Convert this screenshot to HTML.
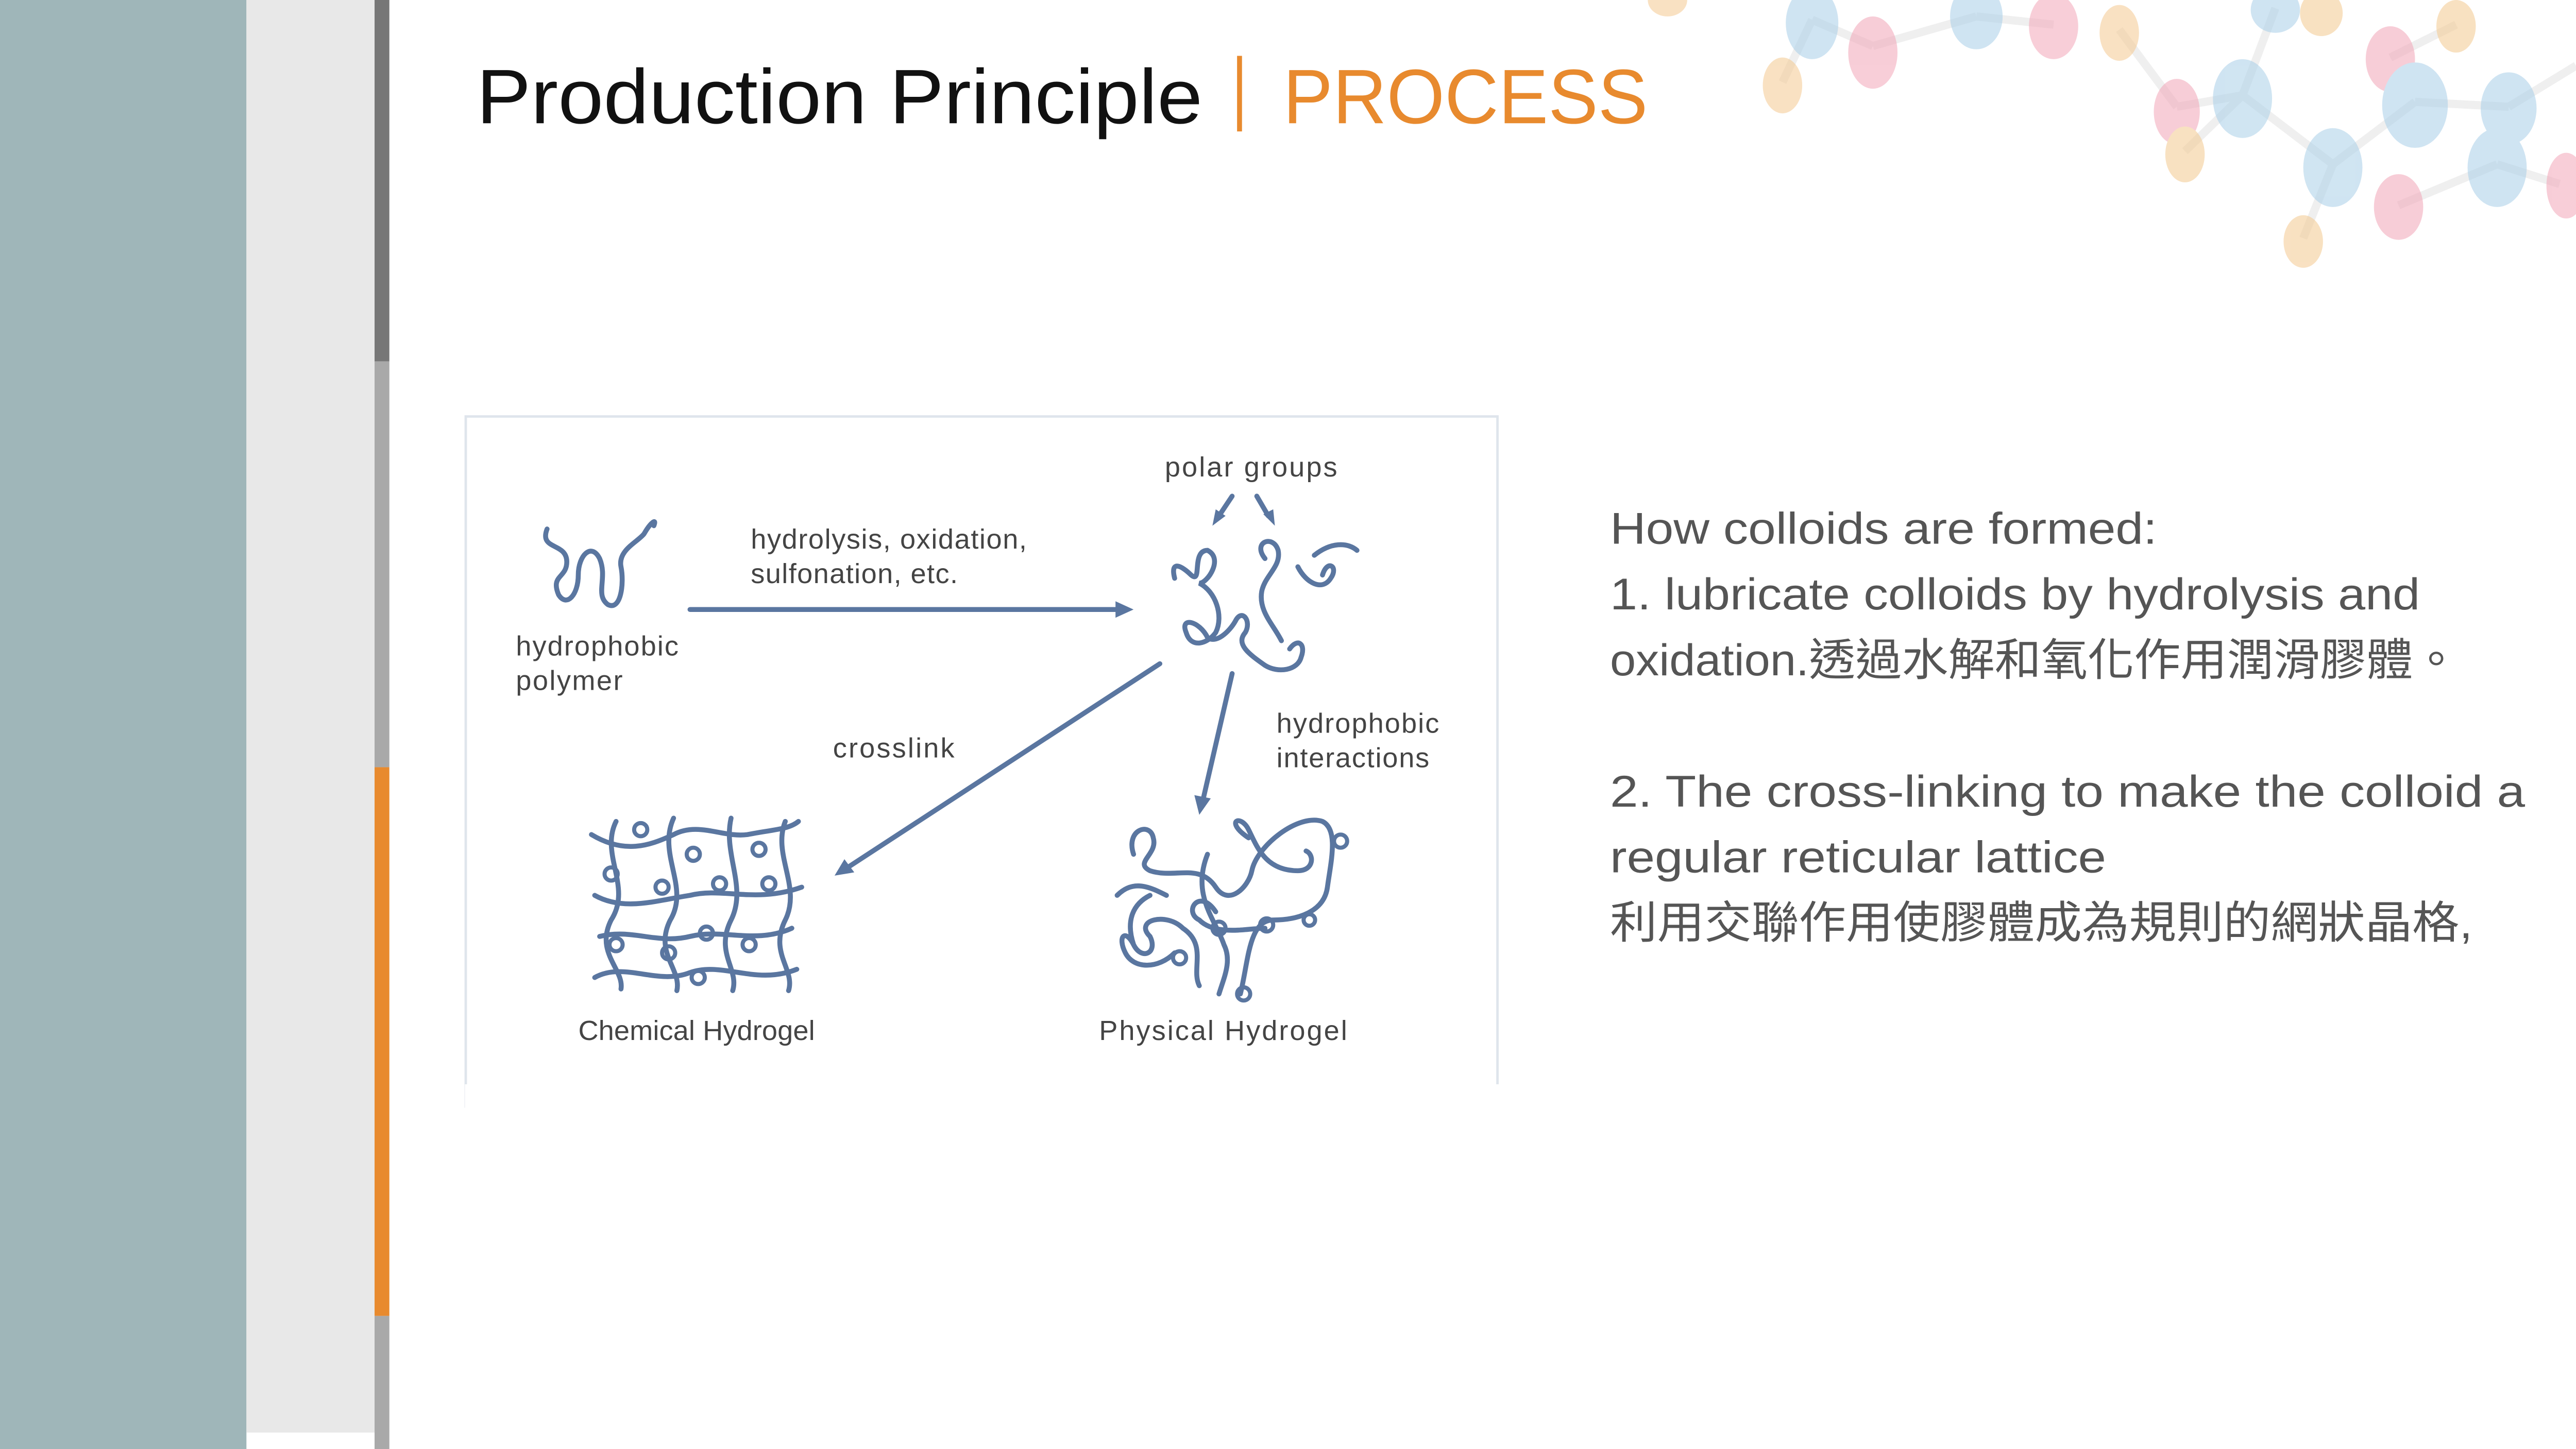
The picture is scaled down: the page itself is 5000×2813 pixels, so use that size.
<!DOCTYPE html>
<html><head><meta charset="utf-8"><style>html,body{margin:0;padding:0;background:#fff}svg{display:block}</style></head>
<body>
<svg width="5000" height="2813" viewBox="0 0 1568 882" preserveAspectRatio="none" xmlns="http://www.w3.org/2000/svg">
<rect x="0" y="0" width="1568" height="882" fill="#fff"/>
<rect x="0" y="0" width="150" height="882" fill="#9fb6b9"/>
<rect x="150" y="0" width="78" height="872" fill="#e8e8e8"/>
<rect x="228" y="0" width="9" height="220" fill="#777"/>
<rect x="228" y="220" width="9" height="247" fill="#a9a9a9"/>
<rect x="228" y="467" width="9" height="334" fill="#e88a2e"/>
<rect x="228" y="801" width="9" height="81" fill="#a9a9a9"/>

<!-- molecules -->
<g opacity="0.45" stroke="#ddd" stroke-width="5">
<line x1="1103" y1="12" x2="1085" y2="50"/><line x1="1103" y1="12" x2="1140" y2="28"/><line x1="1140" y1="28" x2="1203" y2="10"/>
<line x1="1203" y1="10" x2="1250" y2="15"/><line x1="1290" y1="18" x2="1325" y2="65"/><line x1="1325" y1="65" x2="1365" y2="58"/>
<line x1="1365" y1="58" x2="1385" y2="5"/><line x1="1365" y1="58" x2="1330" y2="92"/><line x1="1365" y1="58" x2="1420" y2="100"/>
<line x1="1420" y1="100" x2="1402" y2="145"/><line x1="1420" y1="100" x2="1470" y2="62"/><line x1="1470" y1="62" x2="1527" y2="65"/>
<line x1="1455" y1="35" x2="1495" y2="15"/><line x1="1527" y1="65" x2="1568" y2="40"/><line x1="1520" y1="100" x2="1460" y2="125"/><line x1="1520" y1="100" x2="1558" y2="112"/>
</g>
<g opacity="0.55">
<ellipse cx="1015" cy="0" rx="12" ry="10" fill="#f4c98f"/>
<ellipse cx="1103" cy="14" rx="16" ry="22" fill="#a9cfe8"/>
<ellipse cx="1140" cy="32" rx="15" ry="22" fill="#f2a6b8"/>
<ellipse cx="1085" cy="52" rx="12" ry="17" fill="#f4c98f"/>
<ellipse cx="1203" cy="10" rx="16" ry="20" fill="#a9cfe8"/>
<ellipse cx="1250" cy="16" rx="15" ry="20" fill="#f2a6b8"/>
<ellipse cx="1290" cy="20" rx="12" ry="17" fill="#f4c98f"/>
<ellipse cx="1325" cy="68" rx="14" ry="20" fill="#f2a6b8"/>
<ellipse cx="1365" cy="60" rx="18" ry="24" fill="#a9cfe8"/>
<ellipse cx="1330" cy="94" rx="12" ry="17" fill="#f4c98f"/>
<ellipse cx="1385" cy="6" rx="15" ry="14" fill="#a9cfe8"/>
<ellipse cx="1413" cy="8" rx="13" ry="14" fill="#f4c98f"/>
<ellipse cx="1455" cy="36" rx="15" ry="20" fill="#f2a6b8"/>
<ellipse cx="1470" cy="64" rx="20" ry="26" fill="#a9cfe8"/>
<ellipse cx="1495" cy="16" rx="12" ry="16" fill="#f4c98f"/>
<ellipse cx="1527" cy="66" rx="17" ry="22" fill="#a9cfe8"/>
<ellipse cx="1420" cy="102" rx="18" ry="24" fill="#a9cfe8"/>
<ellipse cx="1402" cy="147" rx="12" ry="16" fill="#f4c98f"/>
<ellipse cx="1460" cy="126" rx="15" ry="20" fill="#f2a6b8"/>
<ellipse cx="1520" cy="102" rx="18" ry="24" fill="#a9cfe8"/>
<ellipse cx="1562" cy="113" rx="12" ry="20" fill="#f2a6b8"/>
</g>

<!-- title -->
<text x="290" y="75" font-family="Liberation Sans, sans-serif" font-size="47" fill="#111" textLength="442" lengthAdjust="spacingAndGlyphs">Production Principle</text>
<rect x="753" y="34" width="3" height="46" fill="#e88a2e"/>
<text x="781" y="75" font-family="Liberation Sans, sans-serif" font-size="47" fill="#e88a2e" textLength="222" lengthAdjust="spacingAndGlyphs">PROCESS</text>

<!-- diagram box -->
<rect x="283.5" y="253.5" width="628" height="420" fill="#fff" stroke="#dfe5ec" stroke-width="1.5"/>
<g font-family="Liberation Sans, sans-serif" font-size="17" fill="#444" lengthAdjust="spacingAndGlyphs">
<text x="709" y="290" textLength="105">polar groups</text>
<text x="457" y="334" textLength="168">hydrolysis, oxidation,</text>
<text x="457" y="355" textLength="126">sulfonation, etc.</text>
<text x="314" y="399" textLength="99">hydrophobic</text>
<text x="314" y="420" textLength="65">polymer</text>
<text x="507" y="461" textLength="74">crosslink</text>
<text x="777" y="446" textLength="99">hydrophobic</text>
<text x="777" y="467" textLength="93">interactions</text>
<text x="352" y="633" textLength="144">Chemical Hydrogel</text>
<text x="669" y="633" textLength="151">Physical Hydrogel</text>
</g>
<rect x="283" y="660" width="630" height="20" fill="#fff"/>
<g stroke="#5a76a0" stroke-width="3" fill="none" stroke-linecap="round">
<line x1="420" y1="371" x2="680" y2="371"/>
<line x1="706" y1="404" x2="516" y2="528"/>
<line x1="750" y1="410" x2="732" y2="488"/>
<line x1="750" y1="302" x2="742" y2="314"/>
<line x1="765" y1="302" x2="772" y2="314"/>
<path d="M333 322 C328 335,345 330,345 342 C345 352,335 350,340 362 C345 370,352 362,352 350 C352 338,360 330,365 340 C370 352,362 362,370 368 C378 372,380 355,378 345 C376 335,388 330,392 325 C396 318,400 315,398 320"/>
<path d="M715 352 C712 340,720 345,725 350 C732 356,725 335,735 335 C745 340,735 355,730 355 C740 360,745 375,740 385 C735 392,725 395,722 385 C718 375,730 378,735 388 C740 392,748 385,752 378 C756 370,762 378,758 385 C752 392,760 398,770 405 C778 410,790 408,792 400 C795 392,790 388,785 395 M770 340 C762 330,775 325,778 335 C780 345,770 350,768 360 C766 372,775 380,780 390 M790 345 C795 355,805 360,810 352 C815 345,808 340,805 350 M800 338 C810 330,820 330,826 335"/>
<path d="M360 508 C380 520,395 515,410 508 C425 500,440 510,455 508 C470 505,480 505,486 500 M362 545 C380 555,400 548,420 545 C440 540,460 550,488 540 M365 570 C385 565,400 575,420 570 C440 565,460 575,482 565 M362 595 C380 585,400 600,420 592 C440 585,460 600,485 590 M375 500 C365 520,385 540,372 560 C362 580,380 590,378 602 M410 498 C400 520,420 540,408 560 C398 580,415 590,412 603 M445 498 C440 520,455 540,445 560 C435 580,450 590,446 603 M478 500 C470 520,488 540,478 560 C468 580,484 590,480 603"/>
<g stroke-width="2.5"><circle cx="390" cy="505" r="4"/><circle cx="422" cy="520" r="4"/><circle cx="372" cy="532" r="4"/><circle cx="403" cy="540" r="4"/><circle cx="438" cy="538" r="4"/><circle cx="468" cy="538" r="4"/><circle cx="375" cy="575" r="4"/><circle cx="407" cy="580" r="4"/><circle cx="430" cy="568" r="4"/><circle cx="456" cy="575" r="4"/><circle cx="425" cy="595" r="4"/><circle cx="462" cy="517" r="4"/></g>
<path d="M690 520 C685 505,700 500,702 510 C705 520,690 525,700 530 C715 535,730 525,740 540 C748 552,760 540,762 530 C765 515,790 495,805 500 C815 505,810 525,808 540 C806 555,790 560,775 560 C760 560,760 585,755 605 M760 510 C745 500,755 495,760 505 C765 515,770 530,790 530 C800 530,800 520,795 518 M700 545 C690 550,685 560,690 575 C695 585,705 580,700 570 C690 560,710 555,720 565 C735 575,725 590,730 600 M735 520 C725 545,740 560,745 575 C750 585,745 595,742 605 M740 555 C730 540,720 555,730 560 C740 570,760 565,770 565 M715 580 C705 590,690 590,685 580 C680 570,685 565,690 575 M680 545 C690 535,700 540,710 545"/>
<g stroke-width="2.5"><circle cx="757" cy="605" r="4"/><circle cx="797" cy="560" r="3.5"/><circle cx="816" cy="512" r="4"/><circle cx="771" cy="563" r="4"/><circle cx="718" cy="583" r="4"/><circle cx="742" cy="565" r="4"/></g>
</g>
<polygon points="690,371 679,366 679,376" fill="#5a76a0"/>
<polygon points="508,533 514,523 520,531" fill="#5a76a0"/>
<polygon points="730,496 727,484 737,486" fill="#5a76a0"/>
<polygon points="738,320 740,310 746,314" fill="#5a76a0"/>
<polygon points="776,320 769,313 775,310" fill="#5a76a0"/>

<g font-family="Liberation Sans, 'Noto Sans CJK TC', sans-serif" font-size="27" fill="#555">
<text x="980" y="331" textLength="333" lengthAdjust="spacingAndGlyphs">How colloids are formed:</text>
<text x="980" y="371" textLength="493" lengthAdjust="spacingAndGlyphs">1. lubricate colloids by hydrolysis and</text>
<text x="980" y="411" textLength="517" lengthAdjust="spacingAndGlyphs">oxidation.透過水解和氧化作用潤滑膠體。</text>
<text x="980" y="491" textLength="557" lengthAdjust="spacingAndGlyphs">2. The cross-linking to make the colloid a</text>
<text x="980" y="531" textLength="302" lengthAdjust="spacingAndGlyphs">regular reticular lattice</text>
<text x="980" y="571" textLength="525" lengthAdjust="spacingAndGlyphs">利用交聯作用使膠體成為規則的網狀晶格,</text>
</g>
</svg>
</body></html>
